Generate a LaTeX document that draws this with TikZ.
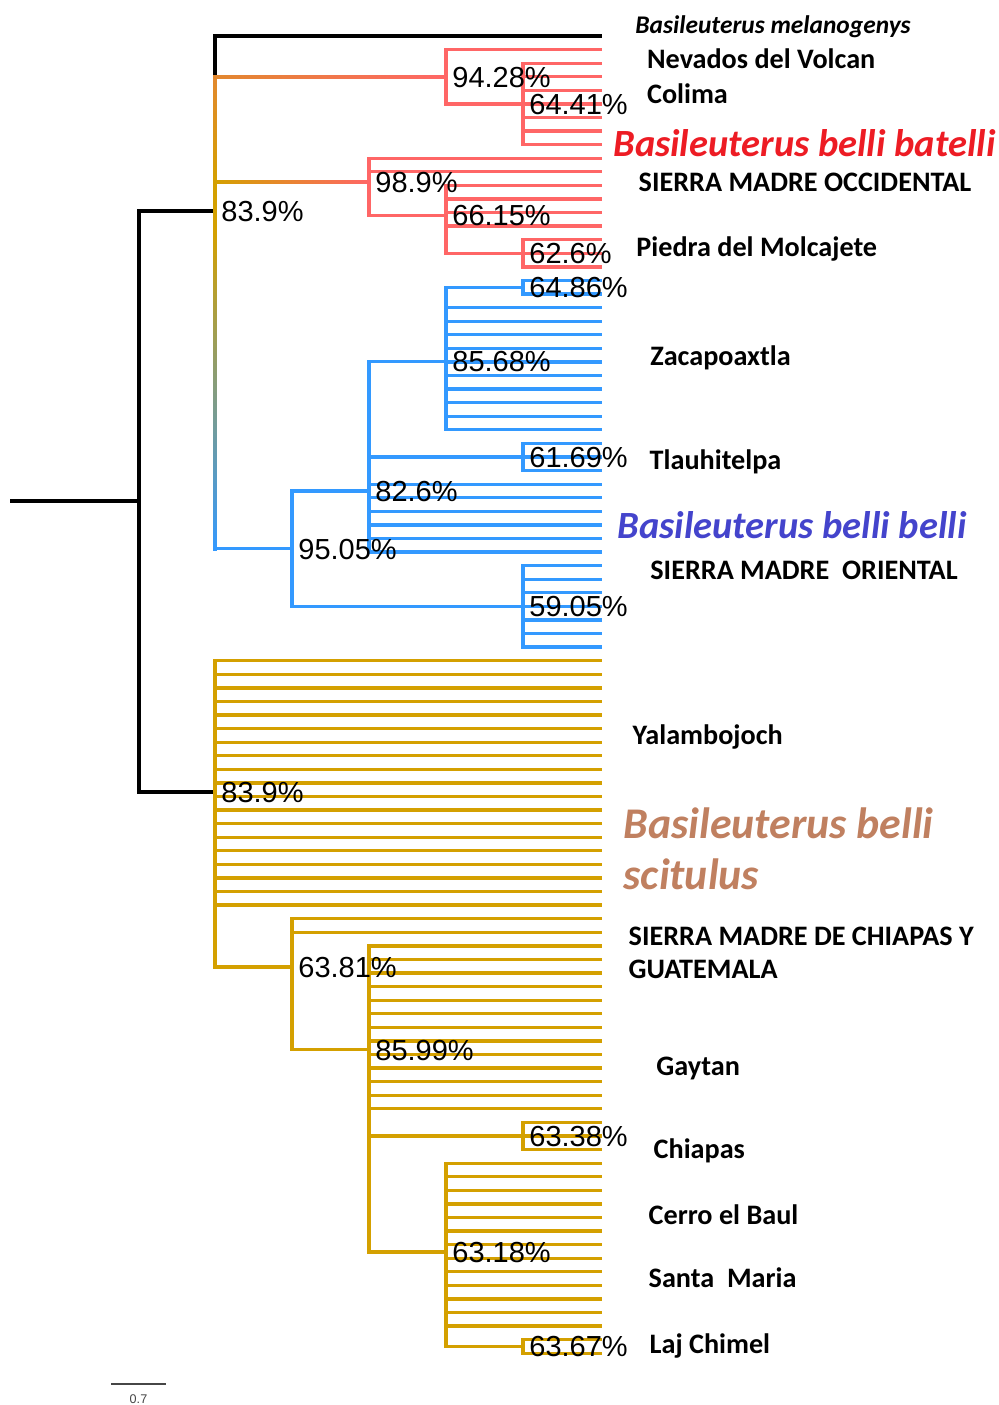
\documentclass[tikz,border=0pt]{standalone}
\usepackage{fontspec}
\setmainfont{Liberation Sans}
\newfontfamily\labfont{Carlito}
\usetikzlibrary{calc}
\definecolor{clred}{RGB}{255,102,102}
\definecolor{clblue}{RGB}{51,153,255}
\definecolor{clgold}{RGB}{212,160,0}
\definecolor{clorange}{RGB}{226,136,46}
\definecolor{txred}{RGB}{237,28,36}
\definecolor{txblue}{RGB}{68,68,204}
\definecolor{txbrown}{RGB}{192,128,96}
\definecolor{scalegray}{RGB}{70,70,70}
\begin{document}
\begin{tikzpicture}[x=0.5pt,y=-0.5pt,
  br/.style={line width=1.65pt, line cap=rect},
  rootbr/.style={line width=2pt, line cap=rect, black},
  pct/.style={anchor=base west, inner sep=0pt, font=\fontsize{14.5}{16}\selectfont},
  tip/.style={anchor=base west, inner sep=0pt, font=\labfont\bfseries\fontsize{14.1}{16}\selectfont},
  taxon/.style={anchor=base west, inner sep=0pt, font=\labfont\bfseries\itshape\fontsize{19.25}{22}\selectfont},
  bigtaxon/.style={taxon, text=txbrown, font=\labfont\bfseries\itshape\fontsize{21.9}{24}\selectfont}]
\useasboundingbox (0,0) rectangle (999,1405);
\fill[white] (0,0) rectangle (999,1405);

% tips (x in px, y in tip index) and internal nodes
\begin{scope}[yshift=-18pt, y=-6.79pt]
  \foreach \i in {0,...,97} \coordinate (L\i) at (600,\i);
  \coordinate (Rs) at (12,34.27);
  \coordinate (R) at (139,34.27);
  \coordinate (U) at (215,12.87);
  \coordinate (W) at (215,55.68);
  \coordinate (A) at (446,3);
  \coordinate (B) at (523,5);
  \coordinate (C) at (369,10.733);
  \coordinate (D) at (446,13.2);
  \coordinate (E) at (523,16);
  \coordinate (F) at (292,37.747);
  \coordinate (G) at (369,33.494);
  \coordinate (H) at (446,23.955);
  \coordinate (I) at (523,18.5);
  \coordinate (J) at (523,31);
  \coordinate (K) at (523,42);
  \coordinate (M) at (292,68.55);
  \coordinate (N) at (369,74.64);
  \coordinate (P) at (523,81);
  \coordinate (Q) at (446,89.54);
  \coordinate (S) at (523,96.5);
  \coordinate (Umid) at (215,14.5);
\end{scope}

% root and outgroup
\draw[rootbr] (Rs) -- (R);
\draw[rootbr] (R |- U) -- (R |- W);
\draw[rootbr] (R |- U) -- (U);
\draw[rootbr] (R |- W) -- (W);
\draw[rootbr] (U |- L0) -- (L0);
\draw[rootbr] (U |- L0) -- (U |- A);

% colour-graded stem of the upper clade
\shade[top color=clorange, bottom color=clgold]
  ($(U |- A)+(-1.9,0)$) rectangle ($(U |- C)+(1.9,0.5)$);
\fill[clgold] ($(U |- C)+(-1.9,0)$) rectangle ($(Umid)+(1.9,0.5)$);
\shade[top color=clgold, bottom color=clblue]
  ($(Umid)+(-1.9,0)$) rectangle ($(U |- F)+(1.9,1.65)$);
\shade[left color=clorange, right color=clred]
  ($(U |- A)+(-1.9,-1.65)$) rectangle ($(A)+(0,1.65)$);
\shade[left color=clgold, right color=clred]
  ($(U |- C)+(0,-1.65)$) rectangle ($(C)+(0,1.65)$);

% Basileuterus belli batelli
\begin{scope}[br, clred]
  \draw (A |- L1) -- (A |- B);
  \draw (A |- L1) -- (L1);
  \draw (A |- B) -- (B);
  \draw (B |- L2) -- (B |- L8);
  \foreach \i in {2,...,8} \draw (B |- L\i) -- (L\i);
  \draw (C |- L9) -- (C |- D);
  \foreach \i in {9,10} \draw (C |- L\i) -- (L\i);
  \draw (C |- D) -- (D);
  \draw (D |- L11) -- (D |- E);
  \foreach \i in {11,...,14} \draw (D |- L\i) -- (L\i);
  \draw (D |- E) -- (E);
  \draw (E |- L15) -- (E |- L17);
  \foreach \i in {15,...,17} \draw (E |- L\i) -- (L\i);
\end{scope}

% Basileuterus belli belli
\begin{scope}[br, clblue]
  \draw (U |- F) -- (F);
  \draw (F |- G) -- (F |- K);
  \draw (F |- G) -- (G);
  \draw (F |- K) -- (K);
  \draw (G |- H) -- (G |- L38);
  \draw (G |- H) -- (H);
  \draw (G |- J) -- (J);
  \foreach \i in {33,...,38} \draw (G |- L\i) -- (L\i);
  \draw (H |- I) -- (H |- L29);
  \draw (H |- I) -- (I);
  \foreach \i in {20,...,29} \draw (H |- L\i) -- (L\i);
  \draw (I |- L18) -- (I |- L19);
  \foreach \i in {18,19} \draw (I |- L\i) -- (L\i);
  \draw (J |- L30) -- (J |- L32);
  \foreach \i in {30,...,32} \draw (J |- L\i) -- (L\i);
  \draw (K |- L39) -- (K |- L45);
  \foreach \i in {39,...,45} \draw (K |- L\i) -- (L\i);
\end{scope}

% Basileuterus belli scitulus
\begin{scope}[br, clgold]
  \draw (W |- L46) -- (W |- M);
  \foreach \i in {46,...,64} \draw (W |- L\i) -- (L\i);
  \draw (W |- M) -- (M);
  \draw (M |- L65) -- (M |- N);
  \foreach \i in {65,66} \draw (M |- L\i) -- (L\i);
  \draw (M |- N) -- (N);
  \draw (N |- L67) -- (N |- Q);
  \foreach \i in {67,...,79} \draw (N |- L\i) -- (L\i);
  \draw (N |- P) -- (P);
  \draw (N |- Q) -- (Q);
  \draw (P |- L80) -- (P |- L82);
  \foreach \i in {80,...,82} \draw (P |- L\i) -- (L\i);
  \draw (Q |- L83) -- (Q |- S);
  \foreach \i in {83,...,95} \draw (Q |- L\i) -- (L\i);
  \draw (Q |- S) -- (S);
  \draw (S |- L96) -- (S |- L97);
  \foreach \i in {96,97} \draw (S |- L\i) -- (L\i);
\end{scope}

% support values
\node[pct] (pA) at ($(A)+(6,10.5)$) {94.28\%};
\node[pct] (pB) at ($(B)+(6,10.5)$) {64.41\%};
\node[pct] (pU) at ($(U)+(6,10.5)$) {83.9\%};
\node[pct] (pC) at ($(C)+(6,10.5)$) {98.9\%};
\node[pct] (pD) at ($(D)+(6,10.5)$) {66.15\%};
\node[pct] (pE) at ($(E)+(6,10.5)$) {62.6\%};
\node[pct] (pI) at ($(I)+(6,10.5)$) {64.86\%};
\node[pct] (pH) at ($(H)+(6,10.5)$) {85.68\%};
\node[pct] (pJ) at ($(J)+(6,10.5)$) {61.69\%};
\node[pct] (pG) at ($(G)+(6,10.5)$) {82.6\%};
\node[pct] (pF) at ($(F)+(6,10.5)$) {95.05\%};
\node[pct] (pK) at ($(K)+(6,10.5)$) {59.05\%};
\node[pct] (pW) at ($(W)+(6,10.5)$) {83.9\%};
\node[pct] (pM) at ($(M)+(6,10.5)$) {63.81\%};
\node[pct] (pN) at ($(N)+(6,10.5)$) {85.99\%};
\node[pct] (pP) at ($(P)+(6,10.5)$) {63.38\%};
\node[pct] (pQ) at ($(Q)+(6,10.5)$) {63.18\%};
\node[pct] (pS) at ($(S)+(6,10.5)$) {63.67\%};

% tip labels
\node[tip, font=\labfont\bfseries\itshape\fontsize{12.7}{14}\selectfont] (t0) at (635,33) {Basileuterus melanogenys};
\node[tip] (t1) at (646.7,68.5) {Nevados del Volcan};
\node[tip] (t2) at (646.7,103) {Colima};
\node[taxon, text=txred] (t3) at (613,156.5) {Basileuterus belli batelli};
\node[tip] (t4) at (638.3,191) {SIERRA MADRE OCCIDENTAL};
\node[tip] (t5) at (636,256.5) {Piedra del Molcajete};
\node[tip] (t6) at (650,365) {Zacapoaxtla};
\node[tip] (t7) at (649.3,469) {Tlauhitelpa};
\node[taxon, text=txblue] (t8) at (617.3,538) {Basileuterus belli belli};
\node[tip] (t9) at (650,579.5) {SIERRA MADRE\ \ ORIENTAL};
\node[tip] (t10) at (632.3,744.5) {Yalambojoch};
\node[bigtaxon] (t11) at (623.3,838) {Basileuterus belli};
\node[bigtaxon] (t12) at (623.3,889) {scitulus};
\node[tip] (t13) at (628.3,945) {SIERRA MADRE DE CHIAPAS Y};
\node[tip] (t14) at (628.3,978.5) {GUATEMALA};
\node[tip] (t15) at (656,1075) {Gaytan};
\node[tip] (t16) at (653.3,1158.5) {Chiapas};
\node[tip] (t17) at (648.3,1224.5) {Cerro el Baul};
\node[tip] (t18) at (648.3,1287) {Santa\ \ Maria};
\node[tip] (t19) at (649.3,1353.5) {Laj Chimel};

% scale bar
\coordinate (sb1) at (111,1384);
\coordinate (sb2) at (166,1384);
\draw[scalegray, line width=0.65pt] (sb1) -- (sb2);
\node[anchor=base, inner sep=0pt, text=scalegray, font=\fontsize{6.3}{7}\selectfont] (sbl) at (138.5,1403) {0.7};
\end{tikzpicture}
\end{document}
